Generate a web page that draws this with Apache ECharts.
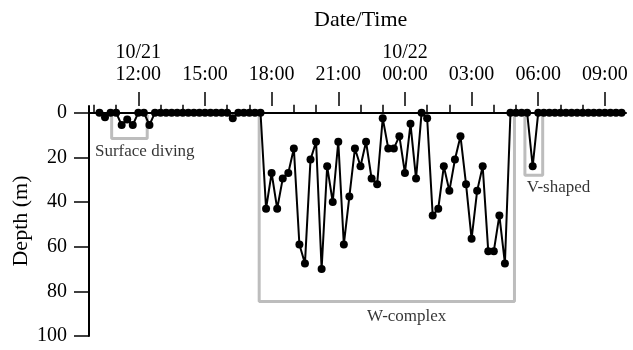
<!DOCTYPE html>
<html lang="en">
  <head>
    <meta charset="UTF-8" />
    <title>Dive profile</title>
    <style>
      html, body { margin: 0; padding: 0; background: #fff; }
      #chart-container { width: 633px; height: 350px; }
    </style>
    <script src="https://cdn.jsdelivr.net/npm/echarts@6/dist/echarts.min.js"></script>
  </head>
  <body>
    <div id="chart-container"></div>
    <script>
      // time in hours from 10/21 00:00, one record every 15 min starting 10:15
      const startHour = 10.25;
      const stepHour = 0.25;
      const depths = [
        0, 2, 0, 0, 5.5, 3, 5.5, 0, 0, 5.5,
        0, 0, 0, 0, 0, 0, 0, 0, 0, 0,
        0, 0, 0, 0, 2.5, 0, 0, 0, 0, 0,
        43, 27, 43, 29.5, 27, 16, 59, 67.5, 21, 13,
        70, 24, 40, 13, 59, 37.5, 16, 24, 13, 29.5,
        32, 2.5, 16, 16, 10.5, 27, 5, 29.5, 0, 2.5,
        46, 43, 24, 35, 21, 10.5, 32, 56.5, 35, 24,
        62, 62, 46, 67.5, 0, 0, 0, 0, 24, 0,
        0, 0, 0, 0, 0, 0, 0, 0, 0, 0,
        0, 0, 0, 0, 0
      ];

      const majorHours = [12, 15, 18, 21, 24, 27, 30, 33];
      const majorLabels = ["10/21\n12:00", "15:00", "18:00", "21:00", "10/22\n00:00", "03:00", "06:00", "09:00"];
      const minorHours = [10, 11, 13, 14, 16, 17, 19, 20, 22, 23, 25, 26, 28, 29, 31, 32];
      const depthTicks = [0, 20, 40, 60, 80, 100];

      // grey brackets round each dive type
      const boxNames = ["Surface diving", "W-complex", "V-shaped"];
      const boxStart = [10.8, 17.44, 29.4];
      const boxEnd = [12.4, 28.93, 30.2];
      const boxDepth = [11.5, 84.6, 28];
      const noteX = [10.05, 24.08, 29.48];
      const noteDepth = [17.5, 91.4, 33.7];
      const noteAlign = ["left", "center", "left"];

      const font = "Liberation Serif";
      const xMin = 9.78;
      const xMax = 33.95;

      let dive = depths.map((d, i) => [startHour + i * stepHour, d]);

      let boxSeries = boxNames.map((name, k) => ({
        type: "line",
        name: name,
        data: [
          [boxStart[k], 1],
          [boxStart[k], boxDepth[k]],
          [boxEnd[k], boxDepth[k]],
          [boxEnd[k], 1],
        ],
        symbol: "none",
        lineStyle: { color: "#bdbdbd", width: 3 },
        silent: true,
        z: 1,
      }));

      let noteSeries = {
        type: "scatter",
        symbolSize: 0,
        silent: true,
        data: boxNames.map((name, k) => ({
          value: [noteX[k], noteDepth[k]],
          label: {
            show: true,
            position: "inside",
            align: noteAlign[k],
            verticalAlign: "middle",
            formatter: name,
            fontFamily: font,
            fontSize: 17,
            color: "#000",
          },
        })),
        z: 3,
      };

      let dom = document.getElementById("chart-container");
      let myChart = echarts.init(dom, null, { renderer: "canvas" });
      let option = {
        animation: false,
        backgroundColor: "#fff",
        title: {
          text: "Date/Time",
          left: 309,
          top: 4,
          textStyle: { fontFamily: font, fontSize: 22, fontWeight: "normal", color: "#000" },
        },
        grid: { left: 89, right: 7, top: 106, bottom: 14, outerBoundsMode: "none", containLabel: false },
        xAxis: [
          {
            type: "value",
            position: "top",
            min: xMin,
            max: xMax,
            axisLine: { show: true, lineStyle: { color: "#000", width: 2 } },
            axisTick: { show: true, customValues: minorHours, length: 8, lineStyle: { color: "#000", width: 1.5 } },
            axisLabel: { show: false },
            splitLine: { show: false },
          },
          {
            type: "value",
            position: "top",
            min: xMin,
            max: xMax,
            axisLine: { show: false },
            axisTick: { show: true, customValues: majorHours, length: 14, lineStyle: { color: "#000", width: 1.5 } },
            axisLabel: {
              customValues: majorHours,
              formatter: (v) => majorLabels[majorHours.indexOf(v)],
              fontFamily: font,
              fontSize: 20,
              lineHeight: 22,
              color: "#000",
              margin: 20,
            },
            splitLine: { show: false },
          },
        ],
        yAxis: {
          type: "value",
          inverse: true,
          min: -3,
          max: 100,
          name: "Depth (m)",
          nameLocation: "middle",
          nameGap: 57,
          nameMoveOverlap: false,
          nameTextStyle: { fontFamily: font, fontSize: 22, color: "#000" },
          axisLine: { show: true, lineStyle: { color: "#000", width: 2 } },
          axisTick: { show: true, customValues: depthTicks, length: 15, lineStyle: { color: "#000", width: 1.5 } },
          axisLabel: {
            customValues: depthTicks,
            fontFamily: font,
            fontSize: 20,
            color: "#000",
            margin: 22,
          },
          splitLine: { show: false },
        },
        series: [
          ...boxSeries,
          {
            type: "line",
            name: "Depth",
            data: dive,
            symbol: "circle",
            symbolSize: 8,
            itemStyle: { color: "#000" },
            lineStyle: { color: "#000", width: 2 },
            z: 2,
          },
          noteSeries,
        ],
      };
      myChart.setOption(option);
    </script>
  </body>
</html>
